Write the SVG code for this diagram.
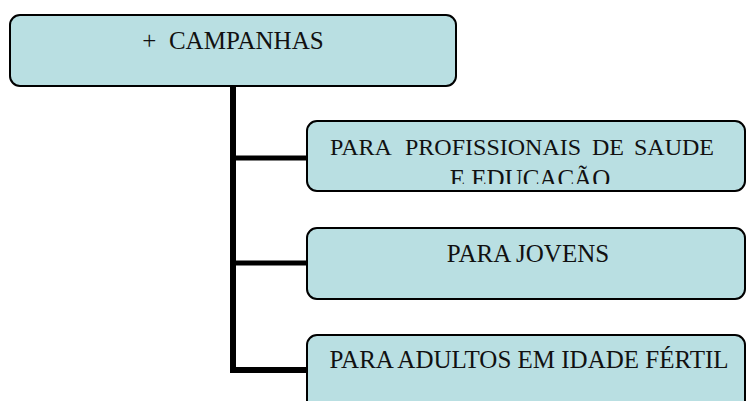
<svg xmlns="http://www.w3.org/2000/svg" width="747" height="401" viewBox="0 0 747 401">
<defs>
<style>
.box{fill:#b9dfe2;stroke:#000;stroke-width:2}
.lbl{font-family:"Liberation Serif","Times New Roman",serif;font-size:25px;fill:#111}
.c{text-anchor:middle}
.conn{stroke:#000;fill:none}
</style>
<clipPath id="clip2"><rect x="308" y="122" width="437" height="62"/></clipPath>
</defs>
<rect width="747" height="401" fill="#fff"/>
<g id="connectors">
<line class="conn" x1="233" y1="86" x2="233" y2="373" stroke-width="6"/>
<line class="conn" x1="233" y1="158" x2="308" y2="158" stroke-width="5"/>
<line class="conn" x1="233" y1="263" x2="308" y2="263" stroke-width="5"/>
<line class="conn" x1="230" y1="370" x2="308" y2="370" stroke-width="6"/>
</g>
<g id="node-campanhas">
<rect class="box" x="10" y="15" width="446" height="71" rx="10"/>
<text class="lbl c" x="233" y="49" xml:space="preserve">+  CAMPANHAS</text>
</g>
<g id="node-profissionais">
<rect class="box" x="307" y="121" width="438" height="70" rx="10"/>
<g clip-path="url(#clip2)">
<text class="lbl" y="155" style="font-size:24px"><tspan x="330">PARA</tspan><tspan x="405">PROFISSIONAIS</tspan><tspan x="592">DE</tspan><tspan x="634">SAUDE</tspan></text>
<text class="lbl c" x="530" y="187">E EDUCAÇÃO</text>
</g>
</g>
<g id="node-jovens">
<rect class="box" x="307" y="228" width="438" height="71" rx="10"/>
<text class="lbl c" x="528" y="262">PARA JOVENS</text>
</g>
<g id="node-adultos">
<rect class="box" x="307" y="335" width="438" height="75" rx="10"/>
<text class="lbl c" x="529" y="368">PARA ADULTOS EM IDADE FÉRTIL</text>
</g>
</svg>
